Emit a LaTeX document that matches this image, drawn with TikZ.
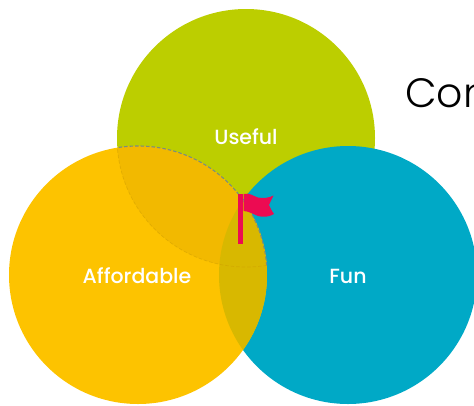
\documentclass[tikz,border=0pt]{standalone}
\usepackage{fontspec}
\setmainfont{Poppins Medium}
\newfontfamily\thinfont{Poppins Light}
\definecolor{cgreen}{HTML}{BCCE00}
\definecolor{corange}{HTML}{FDC300}
\definecolor{cteal}{HTML}{00A9C6}
\definecolor{cog}{HTML}{F2B900}
\definecolor{cot}{HTML}{D8B800}
\definecolor{cflag}{HTML}{EC0B52}
\definecolor{cdash}{HTML}{7A8C80}
\tikzset{
  lab/.style={text=white,font=\fontsize{20.5}{20.5}\selectfont,inner sep=0pt,anchor=base},
  edge/.style={draw=#1,line width=1.1pt,dash pattern=on 3.5pt off 2pt},
}
\begin{document}
\begin{tikzpicture}[x=1pt,y=-1pt]
\useasboundingbox (0,0) rectangle (474,405);
\clip (0,0) rectangle (474,405);
\def\rr{129}
\coordinate (T) at (246,138);
\coordinate (L) at (138,275);
\coordinate (R) at (348,275);
\fill[cgreen] (T) circle[radius=\rr];
\fill[cteal] (R) circle[radius=\rr];
\fill[corange] (L) circle[radius=\rr];
\begin{scope}
  \clip (L) circle[radius=\rr];
  \fill[cog] (T) circle[radius=\rr];
  \fill[cot] (R) circle[radius=\rr];
\end{scope}
\begin{scope}
  \clip (T) circle[radius=\rr];
  \draw[edge=cdash] (L) circle[radius=\rr];
\end{scope}
\begin{scope}
  \clip (L) circle[radius=\rr];
  \draw[edge=cog!85!black,opacity=.5,line width=.7pt] (T) circle[radius=\rr];
\end{scope}
\node[lab] (useful) at (246,144.5) {Useful};
\node[lab] (afford) at (137,283.5) {Affordable};
\node[lab] (fun) at (348,283.5) {Fun};
\node[inner sep=0pt,anchor=base west,font=\thinfont\fontsize{41}{41}\selectfont] (con) at (405,107) {Con};
\fill[cflag] (238,193.5) rectangle (242.5,244);
\fill[cflag] (243.5,194) .. controls (250,192.5) and (253,196) .. (258,197.5)
  .. controls (263,198.5) and (269,198) .. (273.5,195.5)
  .. controls (272,199) and (270,202) .. (269,205)
  .. controls (270,208) and (272,211) .. (274,214)
  .. controls (269,217) and (263,217.5) .. (258,216)
  .. controls (253,214) and (248,211) .. (243.5,211) -- cycle;
\end{tikzpicture}
\end{document}
